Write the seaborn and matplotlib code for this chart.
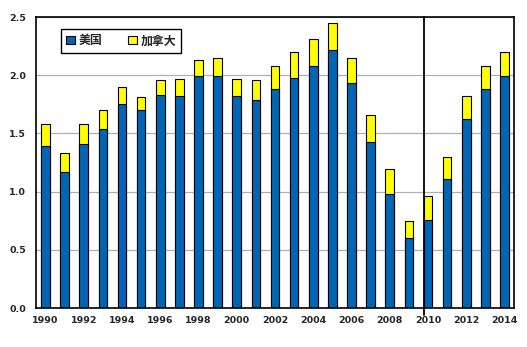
import numpy as np
import pandas as pd
import matplotlib
matplotlib.use("Agg")
import matplotlib.pyplot as plt
from matplotlib.patches import Patch
import seaborn as sns

years = list(range(1990, 2015))
usa = [1.39, 1.17, 1.41, 1.54, 1.75, 1.70, 1.83, 1.82, 1.99, 1.99, 1.82, 1.79, 1.88,
       1.98, 2.08, 2.22, 1.93, 1.43, 0.98, 0.60, 0.76, 1.11, 1.62, 1.88, 1.99]
canada = [0.19, 0.16, 0.17, 0.16, 0.15, 0.11, 0.13, 0.15, 0.14, 0.16, 0.15, 0.17, 0.20,
          0.22, 0.23, 0.23, 0.22, 0.23, 0.21, 0.15, 0.20, 0.19, 0.20, 0.20, 0.21]
tick_years = [str(y) for y in range(1990, 2015, 2)]
series_names = ["美国", "加拿大"]

sns.set_style("white")
plt.rcParams["font.family"] = ["DejaVu Sans", "Noto Sans CJK SC"]

df = pd.DataFrame({"year": [str(y) for y in years], "usa": usa, "canada": canada})
df["total"] = df["usa"] + df["canada"]

blue = "#0066b3"
yellow = "#ffff00"

fig = plt.figure(figsize=(5.27, 3.47), dpi=100)
ax = fig.add_axes([36 / 527, 1 - 308 / 347, 478 / 527, 291 / 347])

sns.barplot(data=df, x="year", y="total", color=yellow, width=0.45,
            edgecolor="black", linewidth=0.8, saturation=1, ax=ax)
sns.barplot(data=df, x="year", y="usa", color=blue, width=0.45,
            edgecolor="black", linewidth=0.8, saturation=1, ax=ax)

ax.set_xlim(-0.5, len(years) - 0.5)
ax.set_ylim(0, 2.5)
ax.set_yticks([0, 0.5, 1.0, 1.5, 2.0, 2.5])
ax.set_yticklabels(["0.0", "0.5", "1.0", "1.5", "2.0", "2.5"])
ax.yaxis.grid(True, color="#b0b0b0", linewidth=0.9)
ax.set_axisbelow(True)

# labels on every other category; tick marks on category boundaries
ax.set_xticks(np.arange(0, len(years), 2))
ax.set_xticklabels(tick_years)
ax.set_xticks(np.arange(-0.5, len(years), 1), minor=True)
ax.tick_params(axis="x", which="major", length=0, pad=6, labelsize=6.8)
ax.tick_params(axis="x", which="minor", length=4, width=1, color="black", direction="out")
ax.tick_params(axis="y", which="major", length=4, width=1, color="black",
               direction="out", labelsize=6.8, pad=3)
for lab in ax.get_xticklabels() + ax.get_yticklabels():
    lab.set_fontweight("semibold")

ax.set_xlabel("")
ax.set_ylabel("")
for s in ax.spines.values():
    s.set_color("black")
    s.set_linewidth(1.2)
    s.set_visible(True)

# marker line at 2010
ax.axvline(19.78, ymin=-0.025, ymax=1, color="black", linewidth=1.3, clip_on=False)

handles = [Patch(facecolor=blue, edgecolor="black", linewidth=0.8),
           Patch(facecolor=yellow, edgecolor="black", linewidth=0.8)]
leg = ax.legend(handles, series_names, loc="upper left",
                bbox_to_anchor=(25 / 478, 1 - 12 / 291), borderaxespad=0, ncol=2,
                frameon=True, fancybox=False, framealpha=1, edgecolor="black",
                handlelength=0.7, handleheight=0.7, handletextpad=0.3,
                columnspacing=2.2, borderpad=0.45, prop={"size": 8.6, "weight": "bold"})
leg.get_frame().set_linewidth(1.0)

fig.savefig("out.png", dpi=100)
